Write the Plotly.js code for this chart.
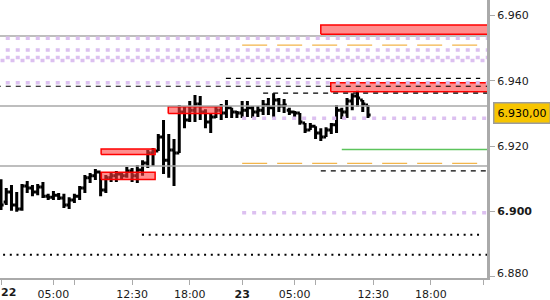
<!DOCTYPE html>
<html><head><meta charset="utf-8">
<script src="https://cdn.plot.ly/plotly-3.0.1.min.js"></script>
<style>html,body{margin:0;padding:0;background:#fff;}#chart{width:550px;height:300px;}</style>
</head><body><div id="chart"></div>
<script>
// 30-minute OHLC bars (sequence order)
const barOpen  = [6.9081,6.9029,6.9060,6.9020,6.9008,6.9078,6.9072,6.9060,6.9075,6.9047,6.9044,6.9050,6.9041,6.9020,6.9035,6.9047,6.9072,6.9103,6.9109,6.9121,6.9066,6.9103,6.9109,6.9115,6.9109,6.9124,6.9109,6.9127,6.9148,6.9179,6.9185,6.9228,6.9157,6.9188,6.9179,6.9304,6.9280,6.9310,6.9329,6.9304,6.9274,6.9289,6.9310,6.9301,6.9317,6.9304,6.9301,6.9310,6.9317,6.9304,6.9310,6.9326,6.9317,6.9341,6.9323,6.9310,6.9304,6.9301,6.9271,6.9249,6.9261,6.9240,6.9228,6.9249,6.9265,6.9310,6.9304,6.9338,6.9353,6.9341,6.9326];
const barHigh  = [6.9099,6.9072,6.9081,6.9060,6.9084,6.9093,6.9081,6.9084,6.9090,6.9054,6.9063,6.9057,6.9054,6.9044,6.9054,6.9078,6.9112,6.9118,6.9130,6.9121,6.9112,6.9121,6.9124,6.9118,6.9136,6.9133,6.9142,6.9157,6.9188,6.9194,6.9237,6.9280,6.9237,6.9222,6.9326,6.9323,6.9338,6.9356,6.9353,6.9313,6.9301,6.9323,6.9329,6.9341,6.9317,6.9307,6.9338,6.9338,6.9323,6.9323,6.9341,6.9347,6.9362,6.9347,6.9344,6.9317,6.9307,6.9301,6.9271,6.9271,6.9261,6.9255,6.9258,6.9271,6.9326,6.9317,6.9347,6.9362,6.9369,6.9341,6.9326];
const barLow   = [6.9005,6.9020,6.9002,6.8999,6.9002,6.9057,6.9047,6.9050,6.9041,6.9035,6.9035,6.9035,6.9011,6.9008,6.9026,6.9035,6.9057,6.9087,6.9096,6.9047,6.9057,6.9090,6.9090,6.9099,6.9103,6.9090,6.9087,6.9109,6.9133,6.9139,6.9185,6.9115,6.9103,6.9078,6.9179,6.9255,6.9274,6.9274,6.9280,6.9255,6.9240,6.9286,6.9280,6.9286,6.9286,6.9286,6.9286,6.9289,6.9286,6.9289,6.9295,6.9295,6.9286,6.9304,6.9301,6.9295,6.9289,6.9265,6.9240,6.9249,6.9222,6.9216,6.9228,6.9237,6.9240,6.9283,6.9286,6.9310,6.9320,6.9304,6.9286];
const barClose = [6.9020,6.9060,6.9020,6.9008,6.9078,6.9072,6.9060,6.9075,6.9047,6.9044,6.9050,6.9041,6.9020,6.9035,6.9047,6.9072,6.9103,6.9109,6.9121,6.9066,6.9103,6.9109,6.9115,6.9109,6.9124,6.9109,6.9127,6.9148,6.9179,6.9185,6.9228,6.9157,6.9188,6.9179,6.9304,6.9280,6.9310,6.9329,6.9304,6.9274,6.9289,6.9310,6.9301,6.9317,6.9304,6.9301,6.9310,6.9317,6.9304,6.9310,6.9326,6.9317,6.9341,6.9323,6.9326,6.9304,6.9301,6.9274,6.9249,6.9261,6.9240,6.9228,6.9249,6.9265,6.9310,6.9304,6.9338,6.9353,6.9347,6.9329,6.9295];

// time-axis ticks (bar index) and labels; first day label drawn separately at the left edge
const tickIndex  = [0,10,14,25,36,46,56,60,71,82,92];
const tickLabels = ['','05:00','','12:30','18:00','<b>23</b>','05:00','','12:30','18:00',''];
const firstDayLabel = '<b>22</b>';

// price-axis ticks
const priceTicks      = [6.96,6.94,6.92,6.90,6.88];
const priceTickLabels = ['6.960','6.940','6.920','<b>6.900</b>',''];
const bottomPriceLabel = '6.880';
const lastPrice = 6.930;
const lastPriceLabel = '6.930,00';

// horizontal levels: price, from bar index, to bar index
const grayLevels = [6.9537,6.9323,6.9139];
const grayFrom   = [-1,-1,-1];
const grayTo     = [93,93,93];

const purpleLevels = [6.9530,6.9494,6.9471,6.9462,6.9394,6.9285,6.8996];
const purpleFrom   = [-1,-1,-1,-2,-1,46,46];
const purpleTo     = [93,93,93,93,93,93,93];

const orangeLevels = [6.9509,6.9147];
const orangeFrom   = [46,46];
const orangeTo     = [93,93];

const dashedLevels = [6.9407,6.9383,6.9362,6.9124];
const dashedFrom   = [42.9,-1,50,61];
const dashedTo     = [91.4,93,93,93];

const dottedLevels = [6.8929,6.8868];
const dottedFrom   = [26.9,0.4];
const dottedTo     = [91.7,93];

const greenLevels = [6.9190];
const greenFrom   = [65];
const greenTo     = [93];

// red zones
const zoneLow  = [6.9542,6.9366,6.9300,6.9174,6.9098];
const zoneHigh = [6.9570,6.9394,6.9320,6.9191,6.9120];
const zoneFrom = [61,62.9,31.9,19.1,19.1];
const zoneTo   = [93,93,42,29.4,29.4];

const X_RANGE = [-0.19, 92.7];
const Y_RANGE = [6.87967, 6.96468];

const traces = [];
zoneLow.forEach((lo,i)=>{
  traces.push({type:'scatter',mode:'lines',
    x:[zoneFrom[i],zoneTo[i],zoneTo[i],zoneFrom[i],zoneFrom[i]],
    y:[lo,lo,zoneHigh[i],zoneHigh[i],lo],
    fill:'toself',fillcolor:'rgba(255,60,60,0.58)',
    line:{color:'#ff0000',width:1.5},hoverinfo:'skip',showlegend:false});
});
function addLevels(levels,from,to,line){
  levels.forEach((p,i)=>{
    traces.push({type:'scatter',mode:'lines',x:[from[i],to[i]],y:[p,p],
      line:line,hoverinfo:'skip',showlegend:false});
  });
}
addLevels(grayLevels,grayFrom,grayTo,{color:'#a9a9a9',width:1.5});
addLevels(purpleLevels,purpleFrom,purpleTo,{color:'#dcc0f0',width:3.5,dash:'4px,6px'});
addLevels(orangeLevels,orangeFrom,orangeTo,{color:'#f3b54a',width:1.3,dash:'25px,10px'});
addLevels(dashedLevels,dashedFrom,dashedTo,{color:'#000000',width:1.2,dash:'5px,5px'});
addLevels(dottedLevels,dottedFrom,dottedTo,{color:'#000000',width:2,dash:'2px,4.7px'});
addLevels(greenLevels,greenFrom,greenTo,{color:'#5cc45c',width:1.5});

const barIdx = barOpen.map((_,i)=>i);
traces.push({type:'ohlc',x:barIdx,open:barOpen,high:barHigh,low:barLow,close:barClose,
  increasing:{line:{color:'#000',width:3}},decreasing:{line:{color:'#000',width:3}},
  tickwidth:0.5,hoverinfo:'skip',showlegend:false});

const font = {family:'DejaVu Sans, Verdana, sans-serif',size:11,color:'#1a1a1a'};
const layout = {
  width:550,height:300,margin:{l:0,r:63,t:0,b:22},
  paper_bgcolor:'#fff',plot_bgcolor:'#fff',showlegend:false,
  xaxis:{range:X_RANGE,showgrid:false,zeroline:false,showline:true,linecolor:'#aaaaaa',linewidth:2,
    ticks:'outside',ticklen:5,tickcolor:'#aaaaaa',tickvals:tickIndex,ticktext:tickLabels,
    tickfont:font,rangeslider:{visible:false},fixedrange:true},
  yaxis:{range:Y_RANGE,side:'right',showgrid:false,zeroline:false,showline:true,linecolor:'#aaaaaa',linewidth:3,
    ticks:'outside',ticklen:5,tickcolor:'#aaaaaa',tickvals:priceTicks,ticktext:priceTickLabels,
    tickfont:font,fixedrange:true},
  annotations:[
    {xref:'paper',yref:'y',x:1,y:lastPrice,xanchor:'left',yanchor:'middle',xshift:6,
     text:lastPriceLabel,showarrow:false,font:{family:font.family,size:11,color:'#000'},
     bgcolor:'#f7c500',bordercolor:'#9c9c9c',borderwidth:1.5,borderpad:3},
    {xref:'paper',yref:'paper',x:1,y:0,xanchor:'left',yanchor:'middle',xshift:8,yshift:5,
     text:bottomPriceLabel,showarrow:false,font:font},
    {xref:'paper',yref:'paper',x:0,y:0,xanchor:'left',yanchor:'top',xshift:-1,yshift:-6,
     text:firstDayLabel,showarrow:false,font:font}
  ]
};
Plotly.newPlot('chart',traces,layout,{staticPlot:true,displayModeBar:false});
</script></body></html>
